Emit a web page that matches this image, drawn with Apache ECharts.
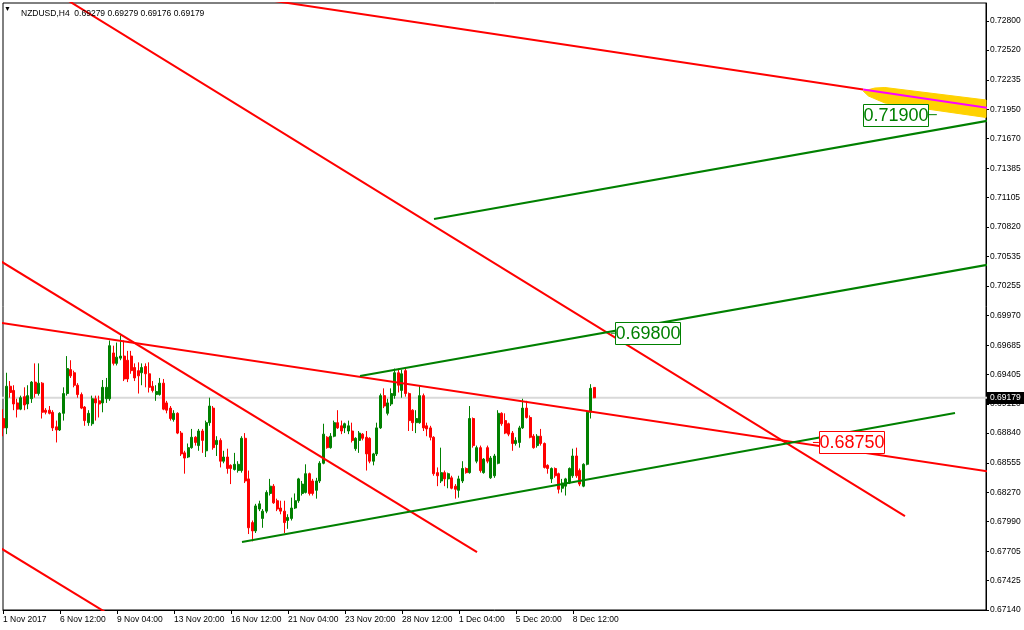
<!DOCTYPE html>
<html><head><meta charset="utf-8">
<script src="https://cdn.jsdelivr.net/npm/echarts@6/dist/echarts.min.js"></script>
<style>html,body{margin:0;padding:0;background:#fff}#c{width:1024px;height:630px}</style>
</head><body><div id="c"></div>
<script>
// ---------- data ----------
const symbolName = 'NZDUSD,H4';
const tickLabels = ['1 Nov 2017','6 Nov 12:00','9 Nov 04:00','13 Nov 20:00','16 Nov 12:00','21 Nov 04:00','23 Nov 20:00','28 Nov 12:00','1 Dec 04:00','5 Dec 20:00','8 Dec 12:00'];
const barsPerTick = 16;
const totalSlots = 277; // bars + empty space to the right (chart shift)
// [open, close, low, high]
const candles = [
[0.6898,0.6889,0.6881,0.6907],[0.6889,0.6929,0.6883,0.6942],[0.6929,0.6923,0.6918,0.6934],[0.6925,0.6912,0.6906,0.6930],
[0.6913,0.6907,0.6899,0.6917],[0.6907,0.6918,0.6906,0.6920],[0.6919,0.6911,0.6906,0.6928],[0.6912,0.6920,0.6907,0.6930],
[0.6917,0.6933,0.6913,0.6934],[0.6933,0.6922,0.6918,0.6951],[0.6922,0.6932,0.6920,0.6951],[0.6932,0.6904,0.6898,0.6933],
[0.6906,0.6904,0.6902,0.6908],[0.6906,0.6903,0.6902,0.6910],[0.6904,0.6889,0.6886,0.6906],[0.6890,0.6887,0.6875,0.6896],
[0.6887,0.6903,0.6886,0.6904],[0.6903,0.6922,0.6896,0.6928],[0.6922,0.6946,0.6920,0.6958],[0.6945,0.6939,0.6937,0.6954],
[0.6942,0.6930,0.6928,0.6944],[0.6930,0.6921,0.6918,0.6932],[0.6921,0.6908,0.6907,0.6923],[0.6909,0.6896,0.6891,0.6910],
[0.6894,0.6903,0.6891,0.6906],[0.6893,0.6917,0.6891,0.6920],[0.6917,0.6913,0.6896,0.6920],[0.6915,0.6912,0.6899,0.6920],
[0.6913,0.6928,0.6904,0.6935],[0.6917,0.6928,0.6913,0.6937],[0.6917,0.6968,0.6915,0.6973],[0.6961,0.6951,0.6949,0.6968],
[0.6951,0.6957,0.6949,0.6971],[0.6956,0.6958,0.6954,0.6978],[0.6958,0.6936,0.6934,0.6973],[0.6954,0.6936,0.6933,0.6963],
[0.6958,0.6944,0.6941,0.6963],[0.6947,0.6937,0.6934,0.6951],[0.6944,0.6939,0.6922,0.6952],[0.6942,0.6947,0.6930,0.6951],
[0.6948,0.6941,0.6928,0.6951],[0.6941,0.6928,0.6923,0.6952],[0.6929,0.6925,0.6923,0.6934],[0.6921,0.6924,0.6915,0.6930],
[0.6921,0.6932,0.6920,0.6937],[0.6932,0.6907,0.6906,0.6936],[0.6913,0.6906,0.6903,0.6915],[0.6908,0.6898,0.6896,0.6910],
[0.6897,0.6903,0.6895,0.6906],[0.6903,0.6884,0.6883,0.6904],[0.6884,0.6864,0.6862,0.6886],[0.6865,0.6860,0.6845,0.6867],
[0.6861,0.6870,0.6860,0.6874],[0.6870,0.6880,0.6869,0.6888],[0.6880,0.6875,0.6872,0.6881],[0.6872,0.6886,0.6867,0.6888],
[0.6886,0.6877,0.6865,0.6888],[0.6867,0.6894,0.6861,0.6896],[0.6894,0.6910,0.6891,0.6918],[0.6908,0.6870,0.6868,0.6910],
[0.6873,0.6877,0.6862,0.6881],[0.6877,0.6857,0.6851,0.6879],[0.6857,0.6861,0.6855,0.6867],[0.6861,0.6850,0.6845,0.6869],
[0.6853,0.6850,0.6835,0.6854],[0.6849,0.6854,0.6848,0.6865],[0.6848,0.6854,0.6846,0.6857],[0.6848,0.6879,0.6846,0.6881],
[0.6879,0.6838,0.6836,0.6884],[0.6840,0.6793,0.6787,0.6848],[0.6798,0.6790,0.6780,0.6800],[0.6790,0.6814,0.6788,0.6816],
[0.6811,0.6816,0.6809,0.6819],[0.6802,0.6809,0.6793,0.6811],[0.6809,0.6827,0.6807,0.6829],[0.6826,0.6833,0.6824,0.6840],
[0.6833,0.6817,0.6816,0.6835],[0.6819,0.6811,0.6809,0.6821],[0.6812,0.6809,0.6806,0.6819],[0.6809,0.6798,0.6788,0.6819],
[0.6800,0.6803,0.6792,0.6806],[0.6802,0.6812,0.6800,0.6822],[0.6812,0.6819,0.6811,0.6826],[0.6819,0.6840,0.6817,0.6841],
[0.6826,0.6835,0.6824,0.6838],[0.6827,0.6845,0.6826,0.6854],[0.6845,0.6826,0.6824,0.6846],[0.6838,0.6826,0.6824,0.6840],
[0.6829,0.6838,0.6821,0.6841],[0.6838,0.6855,0.6836,0.6857],[0.6855,0.6883,0.6854,0.6893],[0.6880,0.6870,0.6869,0.6881],
[0.6870,0.6881,0.6869,0.6884],[0.6881,0.6894,0.6880,0.6896],[0.6894,0.6889,0.6888,0.6906],[0.6891,0.6886,0.6883,0.6896],
[0.6889,0.6893,0.6884,0.6894],[0.6886,0.6891,0.6883,0.6896],[0.6886,0.6877,0.6875,0.6894],[0.6869,0.6879,0.6867,0.6880],
[0.6877,0.6884,0.6865,0.6886],[0.6883,0.6879,0.6877,0.6884],[0.6880,0.6864,0.6848,0.6886],[0.6879,0.6857,0.6855,0.6880],
[0.6857,0.6864,0.6853,0.6865],[0.6864,0.6889,0.6862,0.6894],[0.6889,0.6920,0.6888,0.6922],[0.6920,0.6910,0.6908,0.6927],
[0.6903,0.6913,0.6901,0.6917],[0.6912,0.6922,0.6910,0.6927],[0.6920,0.6942,0.6917,0.6946],[0.6942,0.6930,0.6923,0.6946],
[0.6925,0.6941,0.6918,0.6945],[0.6944,0.6922,0.6919,0.6946],[0.6922,0.6896,0.6886,0.6923],[0.6906,0.6894,0.6886,0.6907],
[0.6894,0.6898,0.6884,0.6906],[0.6894,0.6920,0.6893,0.6930],[0.6920,0.6889,0.6886,0.6922],[0.6891,0.6888,0.6881,0.6894],
[0.6889,0.6880,0.6877,0.6891],[0.6880,0.6845,0.6843,0.6881],[0.6846,0.6843,0.6833,0.6851],[0.6838,0.6846,0.6836,0.6870],
[0.6846,0.6840,0.6833,0.6848],[0.6840,0.6845,0.6831,0.6846],[0.6841,0.6831,0.6830,0.6843],[0.6833,0.6830,0.6821,0.6835],
[0.6829,0.6840,0.6822,0.6843],[0.6838,0.6850,0.6836,0.6857],[0.6850,0.6846,0.6845,0.6851],[0.6846,0.6898,0.6845,0.6910],
[0.6898,0.6872,0.6870,0.6899],[0.6857,0.6870,0.6855,0.6872],[0.6870,0.6848,0.6846,0.6872],[0.6846,0.6859,0.6845,0.6860],
[0.6870,0.6857,0.6855,0.6872],[0.6841,0.6860,0.6840,0.6862],[0.6843,0.6862,0.6841,0.6864],[0.6855,0.6903,0.6854,0.6906],
[0.6903,0.6893,0.6891,0.6904],[0.6896,0.6884,0.6883,0.6903],[0.6893,0.6883,0.6881,0.6894],[0.6884,0.6874,0.6867,0.6886],
[0.6874,0.6877,0.6872,0.6880],[0.6875,0.6889,0.6870,0.6891],[0.6889,0.6908,0.6888,0.6917],[0.6908,0.6899,0.6898,0.6915],
[0.6899,0.6880,0.6879,0.6901],[0.6881,0.6870,0.6869,0.6883],[0.6872,0.6881,0.6870,0.6883],[0.6881,0.6874,0.6872,0.6888],
[0.6874,0.6851,0.6850,0.6875],[0.6853,0.6850,0.6845,0.6854],[0.6840,0.6850,0.6836,0.6851],[0.6850,0.6843,0.6841,0.6851],
[0.6845,0.6830,0.6826,0.6846],[0.6831,0.6836,0.6827,0.6840],[0.6833,0.6840,0.6824,0.6841],[0.6836,0.6850,0.6835,0.6851],
[0.6843,0.6862,0.6841,0.6869],[0.6862,0.6843,0.6841,0.6870],[0.6848,0.6835,0.6833,0.6850],[0.6833,0.6854,0.6832,0.6855],
[0.6854,0.6904,0.6853,0.6906],[0.6904,0.6927,0.6898,0.6931],[0.69279,0.69179,0.69176,0.69279]
];
const yTickValues = [0.72800,0.72520,0.72235,0.71950,0.71670,0.71385,0.71105,0.70820,0.70535,0.70255,0.69970,0.69685,0.69405,0.69120,0.68840,0.68555,0.68270,0.67990,0.67705,0.67425,0.67140];
const priceMin = 0.67140, priceMax = 0.72973;
const currentPrice = 0.69179;
// trend lines: [[barIndex, price],[barIndex, price]]
const redLines = [
  [[60, 0.73076], [241.5, 0.72142]],
  [[10, 0.73171], [253.25, 0.68043]],
  [[-3, 0.70541], [133.09, 0.67697]],
  [[-3, 0.67783], [40, 0.66884]],
  [[-3, 0.69912], [280, 0.68455]]
];
const magentaLine = [[241.5, 0.72142], [280, 0.71948]];
const greenLines = [
  [[67.10, 0.67793], [267.29, 0.69033]],
  [[100.24, 0.69389], [280, 0.70479]],
  [[121.01, 0.70897], [280, 0.71863]]
];
const highlightBand = [[241.5,0.72127],[244.8,0.72156],[247.6,0.72161],[276,0.72041],[276,0.71873],[247.6,0.72012],[243.0,0.72079]];
const priceLabels = [0.71900, 0.69800, 0.68750];
const priceLabelIdx = [262.2, 170.7, 227.4];

// ---------- chart ----------
const categories = [];
for (let i = 0; i < totalSlots; i++) {
  const k = i / barsPerTick;
  categories.push(i % barsPerTick === 0 && k < tickLabels.length ? tickLabels[k] : '');
}
const last = candles[candles.length - 1];
const fmt = v => v.toFixed(5);
const FONT = '"Liberation Sans", Arial, sans-serif';
const GREEN = '#008000', RED = '#ff0000';

const series = [];
// current price line
series.push({
  type: 'line', xAxisIndex: 1, yAxisIndex: 0, z: 1, silent: true, symbol: 'none',
  data: [[-5, currentPrice], [totalSlots + 5, currentPrice]],
  lineStyle: { color: '#d9d9d9', width: 2 }
});
series.push({
  type: 'candlestick', xAxisIndex: 0, yAxisIndex: 0, data: candles, z: 2,
  barWidth: 2.5, silent: true,
  itemStyle: { color: GREEN, color0: RED, borderColor: GREEN, borderColor0: RED, borderWidth: 1 }
});
series.push({
  type: 'custom', xAxisIndex: 1, yAxisIndex: 0, data: highlightBand, z: 3, silent: true,
  renderItem: (params, api) => {
    if (params.dataIndex !== 0) return;
    return { type: 'polygon', shape: { points: highlightBand.map(p => api.coord(p)) },
      style: { fill: '#ffd200', stroke: '#ffd200', lineWidth: 1 } };
  }
});
redLines.forEach(l => series.push({ type: 'line', xAxisIndex: 1, yAxisIndex: 0, data: l, z: 4, symbol: 'none', silent: true,
  lineStyle: { color: RED, width: 2 } }));
series.push({ type: 'line', xAxisIndex: 1, yAxisIndex: 0, data: magentaLine, z: 5, symbol: 'none', silent: true,
  lineStyle: { color: '#ff00ff', width: 2 } });
greenLines.forEach(l => series.push({ type: 'line', xAxisIndex: 1, yAxisIndex: 0, data: l, z: 4, symbol: 'none', silent: true,
  lineStyle: { color: GREEN, width: 2 } }));

const labelStyle = [
  { color: GREEN, side: 'left', gap: 9 },
  { color: GREEN, side: 'right', gap: 4 },
  { color: RED, side: 'right', gap: 6 }
];
series.push({
  type: 'custom', xAxisIndex: 1, yAxisIndex: 0, z: 6, silent: true,
  data: priceLabels.map((p, k) => [priceLabelIdx[k], p]),
  renderItem: (params, api) => {
    const k = params.dataIndex, st = labelStyle[k];
    const pt = api.coord([api.value(0), api.value(1)]);
    const w = 65, h = 22;
    const bx = Math.round(st.side === 'left' ? pt[0] - st.gap - w : pt[0] + st.gap);
    const by = Math.round(pt[1] - h / 2);
    const lx = st.side === 'left' ? pt[0] - st.gap : pt[0] + st.gap;
    return { type: 'group', children: [
      { type: 'line', shape: { x1: pt[0], y1: pt[1], x2: lx, y2: pt[1] }, style: { stroke: st.color, lineWidth: 1 } },
      { type: 'rect', shape: { x: bx + 0.5, y: by + 0.5, width: w, height: h }, style: { fill: '#fff', stroke: st.color, lineWidth: 1 } },
      { type: 'text', style: { text: fmt(priceLabels[k]), x: bx + w / 2 + 0.5, y: by + h / 2 + 1, fill: st.color,
          font: '18px ' + FONT, align: 'center', verticalAlign: 'middle', textAlign: 'center', textVerticalAlign: 'middle' } }
    ] };
  }
});
// current price tag on the price scale
series.push({
  type: 'custom', xAxisIndex: 1, yAxisIndex: 0, z: 10, silent: true, clip: false,
  data: [[totalSlots - 1, currentPrice]],
  renderItem: (params, api) => {
    const pt = api.coord([api.value(0), api.value(1)]);
    const x = Math.round(pt[0]) + 1, y = Math.round(pt[1]);
    return { type: 'group', children: [
      { type: 'rect', shape: { x: x, y: y - 6, width: 37, height: 12 }, style: { fill: '#000' } },
      { type: 'text', style: { text: fmt(currentPrice), x: x + 3, y: y, fill: '#fff', font: '8.5px ' + FONT,
          align: 'left', verticalAlign: 'middle', textAlign: 'left', textVerticalAlign: 'middle' } }
    ] };
  }
});

const chart = echarts.init(document.getElementById('c'), null, { renderer: 'canvas' });
chart.setOption({
  animation: false,
  backgroundColor: '#fff',
  title: {
    text: symbolName + '  ' + [last[0], last[3], last[2], last[1]].map(fmt).join(' '),
    left: 16, top: 4,
    textStyle: { fontSize: 8.5, fontWeight: 'normal', color: '#000', fontFamily: FONT }
  },
  graphic: [{ type: 'text', left: 4, top: 6, style: { text: '▼', font: '7px ' + FONT, fill: '#000' } }],
  grid: { left: 3, right: 38, top: 3, bottom: 20, show: true, borderColor: '#000', borderWidth: 1, backgroundColor: '#fff' },
  xAxis: [
    { type: 'category', data: categories, boundaryGap: false, position: 'bottom',
      axisLine: { onZero: false, lineStyle: { color: '#000', width: 1 } },
      axisTick: { length: 4, lineStyle: { color: '#000' }, interval: (i, v) => v !== '' },
      axisLabel: { interval: (i, v) => v !== '', align: 'left', fontSize: 8.5, fontFamily: FONT, color: '#000', margin: 5 },
      splitLine: { show: false } },
    { type: 'value', min: 0, max: totalSlots - 1, show: false, splitLine: { show: false } }
  ],
  yAxis: [{
    type: 'value', position: 'right', min: priceMin, max: priceMax, scale: true,
    axisLine: { show: true, onZero: false, lineStyle: { color: '#000', width: 1 } },
    axisTick: { show: true, inside: false, length: 3, lineStyle: { color: '#000' }, customValues: yTickValues },
    axisLabel: { customValues: yTickValues, formatter: fmt, fontSize: 8.5, fontFamily: FONT, color: '#000', margin: 4 },
    splitLine: { show: false }
  }],
  series
});
</script></body></html>
